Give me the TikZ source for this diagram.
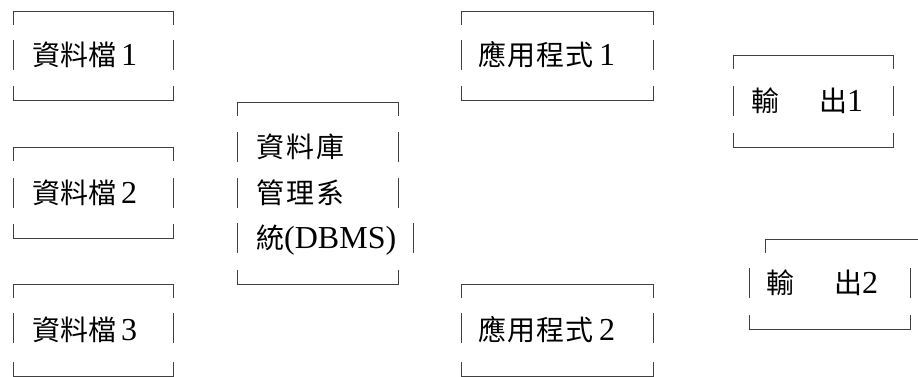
\documentclass[tikz,border=0pt]{standalone}
\usepackage{fontspec}
\setmainfont{Liberation Serif}
\newfontfamily\cjk{Noto Sans CJK TC}
\usepackage{tikz}
\tikzstyle{frame}=[draw=black!75,line width=0.9pt]
\tikzstyle{label}=[anchor=west,inner sep=0pt,font=\fontsize{32}{36}\selectfont]
\newcommand{\zh}[1]{{\cjk\fontsize{28}{36}\selectfont #1}}

\begin{document}
\begin{tikzpicture}[x=1pt,y=-1pt]
    \useasboundingbox (0,0) rectangle (918,376);
    % box tops and bottoms
    \foreach \l/\r/\t in {13/173/11, 13/173/147, 13/173/284, 237/398/102, 461/653/11, 461/653/284, 733/893/55, 765/925/239}
        \draw[frame] (\l,\t+14) -- (\l,\t) -- (\r,\t) -- (\r,\t+14);
    \foreach \l/\r/\b in {13/173/100, 13/173/238, 13/173/376, 237/398/284, 461/653/100, 461/653/376, 733/893/147, 749/910/329}
        \draw[frame] (\l,\b-14) -- (\l,\b) -- (\r,\b) -- (\r,\b-14);
    % side bars
    \foreach \x/\y in {13/55, 173/55, 13/193, 173/193, 13/328, 173/328, 237/147, 398/147, 237/193, 398/193, 237/238, 413/238, 461/55, 653/55, 461/328, 653/328, 733/101, 893/101, 749/283, 910/283}
        \draw[frame] (\x,\y-15) -- (\x,\y+15);
    % texts
    \foreach \name/\pos/\num in {file1/{(32,55)}/1, file2/{(32,193)}/2, file3/{(32,330)}/3}
        \node[label] (\name) at \pos {\zh{資料檔}\hspace{5pt}\num};
    \foreach \name/\pos/\num in {app1/{(478,55)}/1, app2/{(478,330)}/2}
        \node[label] (\name) at \pos {\zh{應\hspace{1pt}用\hspace{1pt}程\hspace{1pt}式}\hspace{6pt}\num};
    \foreach \name/\pos/\num in {out1/{(751,101)}/1, out2/{(766,283)}/2}
        \node[label] (\name) at \pos {\zh{輸}\hspace{40pt}\zh{出}\num};
    \node[label] (dbms1) at (256,147) {\zh{資\hspace{2pt}料\hspace{2pt}庫}};
    \node[label] (dbms2) at (256,193) {\zh{管\hspace{2pt}理\hspace{2pt}系}};
    \node[label] (dbms3) at (256,240) {\zh{統}(DBMS)};
\end{tikzpicture}
\end{document}
